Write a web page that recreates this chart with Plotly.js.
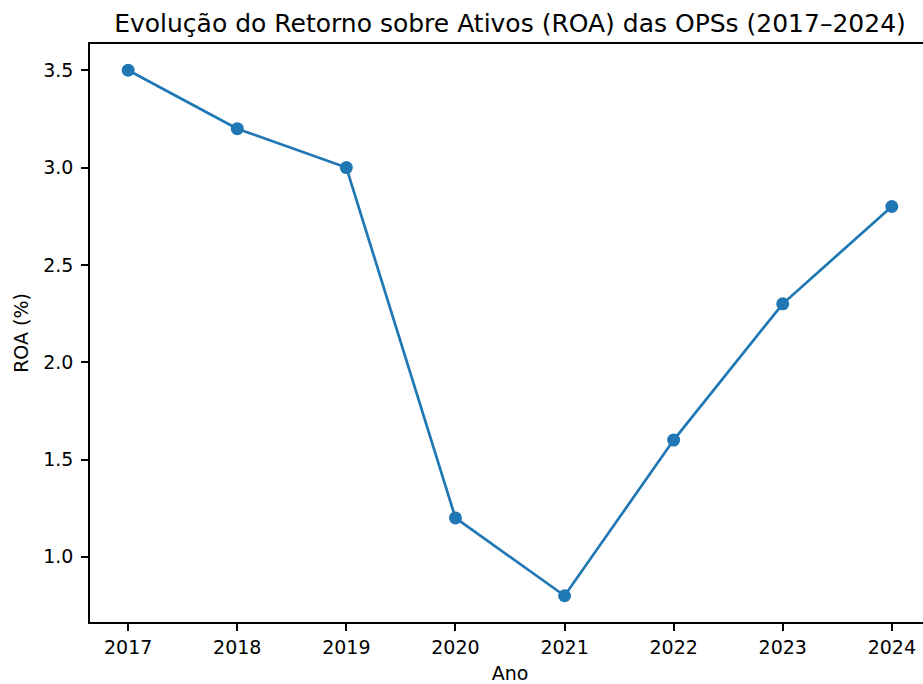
<!DOCTYPE html>
<html>
<head>
<meta charset="utf-8">
<script src="https://cdn.plot.ly/plotly-3.0.1.min.js"></script>
<style>
html, body { margin: 0; padding: 0; overflow: hidden; background: #fff; }
#chart { width: 940px; height: 684px; }
</style>
</head>
<body>
<div id="chart"></div>
<script>
const years = [2017, 2018, 2019, 2020, 2021, 2022, 2023, 2024];
const roa = [3.5, 3.2, 3.0, 1.2, 0.8, 1.6, 2.3, 2.8];
const yTicks = [1.0, 1.5, 2.0, 2.5, 3.0, 3.5];
const yTickLabels = ['1.0', '1.5', '2.0', '2.5', '3.0', '3.5'];
const titleText = 'Evolução do Retorno sobre Ativos (ROA) das OPSs (2017–2024)';

const trace = {
  x: years,
  y: roa,
  type: 'scatter',
  mode: 'lines+markers',
  line: { color: '#1f77b4', width: 2.7 },
  marker: { color: '#1f77b4', size: 13 },
  hoverinfo: 'x+y'
};

const font = { family: 'DejaVu Sans, sans-serif', size: 19, color: '#000' };

const layout = {
  width: 940,
  height: 684,
  margin: { l: 90, r: 10, t: 44, b: 62 },
  paper_bgcolor: '#fff',
  plot_bgcolor: '#fff',
  font: font,
  showlegend: false,
  title: {
    text: titleText,
    font: { family: 'DejaVu Sans, sans-serif', size: 25, color: '#000' },
    x: 0.5, xref: 'paper', xanchor: 'center',
    y: 1, yref: 'paper', yanchor: 'bottom',
    pad: { b: 12 }
  },
  xaxis: {
    range: [2016.65, 2024.35],
    tickmode: 'array',
    tickvals: years,
    ticktext: years.map(String),
    showgrid: false,
    zeroline: false,
    showline: true, mirror: true,
    linecolor: '#000', linewidth: 1.5,
    ticks: 'outside', ticklen: 7, tickwidth: 1.5, tickcolor: '#000',
    ticklabelstandoff: 0,
    title: { text: 'Ano', font: font, standoff: 10 }
  },
  yaxis: {
    range: [0.665, 3.635],
    tickmode: 'array',
    tickvals: yTicks,
    ticktext: yTickLabels,
    showgrid: false,
    zeroline: false,
    showline: true, mirror: true,
    linecolor: '#000', linewidth: 1.5,
    ticks: 'outside', ticklen: 7, tickwidth: 1.5, tickcolor: '#000',
    ticklabelstandoff: 4,
    title: { text: 'ROA (%)', font: font, standoff: 10 }
  }
};

Plotly.newPlot('chart', [trace], layout, { displayModeBar: false, responsive: false });
</script>
</body>
</html>
